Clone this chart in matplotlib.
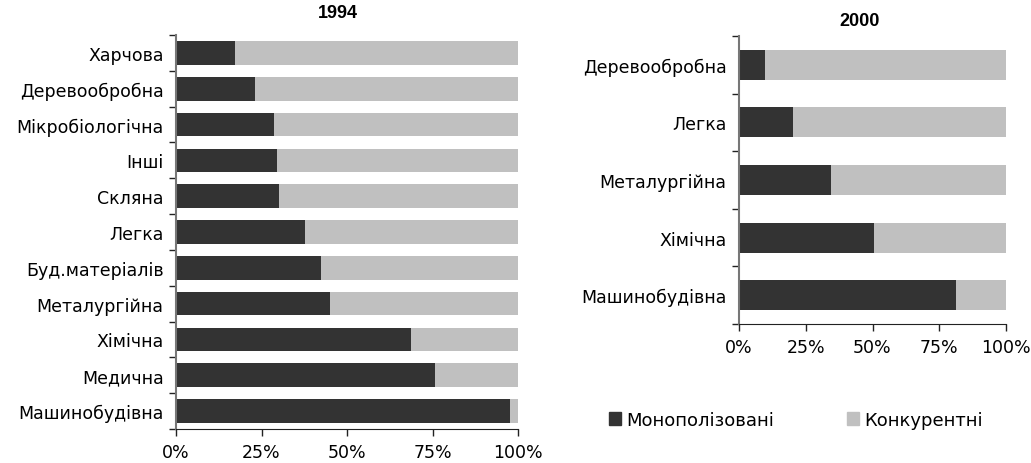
import matplotlib.pyplot as plt
import numpy as np
from matplotlib.patches import Patch

cats_1994 = ['Харчова', 'Деревообробна', 'Мікробіологічна', 'Інші', 'Скляна', 'Легка',
             'Буд.матеріалів', 'Металургійна', 'Хімічна', 'Медична', 'Машинобудівна']
mono_1994 = [17.2, 23.1, 28.6, 29.5, 30.1, 37.7, 42.4, 45.0, 68.7, 75.8, 97.7]

cats_2000 = ['Деревообробна', 'Легка', 'Металургійна', 'Хімічна', 'Машинобудівна']
mono_2000 = [9.8, 20.2, 34.5, 50.6, 81.4]

xticks = [0, 25, 50, 75, 100]
xlabels = ['0%', '25%', '50%', '75%', '100%']

DARK = '#333333'
LIGHT = '#c0c0c0'
FS = 12.5

plt.rcParams['font.family'] = ['DejaVu Sans']

fig = plt.figure(figsize=(10.31, 4.64), dpi=100)
W, H = 1031, 464


def draw(ax, cats, mono, height):
    n = len(cats)
    y = np.arange(n)[::-1]
    comp = [100 - v for v in mono]
    ax.barh(y, mono, height=height, color=DARK, edgecolor='none')
    ax.barh(y, comp, left=mono, height=height, color=LIGHT, edgecolor='none')
    ax.set_xlim(0, 100)
    ax.set_ylim(-0.5, n - 0.5)
    ax.set_yticks(y)
    ax.set_yticklabels(cats, fontsize=FS)
    ax.set_yticks(np.arange(-0.5, n, 1.0), minor=True)
    ax.tick_params(axis='y', which='major', length=0, pad=9)
    ax.tick_params(axis='y', which='minor', length=5, width=1, color='#222222')
    ax.set_xticks(xticks)
    ax.set_xticklabels(xlabels, fontsize=FS)
    ax.tick_params(axis='x', length=5, width=1, color='#222222', pad=5)
    for s in ['top', 'right']:
        ax.spines[s].set_visible(False)
    ax.spines['left'].set_color('#777777')
    ax.spines['left'].set_linewidth(1.5)
    ax.spines['bottom'].set_color('#222222')


ax1 = fig.add_axes([176 / W, 1 - 430 / H, 342 / W, 394 / H])
draw(ax1, cats_1994, mono_1994, 0.66)
fig.text(338 / W, 1 - 13 / H, '1994', ha='center', va='center', fontsize=13,
         fontweight='bold', family='Liberation Sans')

ax2 = fig.add_axes([739 / W, 1 - 325 / H, 267 / W, 288 / H])
draw(ax2, cats_2000, mono_2000, 0.52)
fig.text(860 / W, 1 - 22 / H, '2000', ha='center', va='center', fontsize=13,
         fontweight='bold', family='Liberation Sans')

handles = [Patch(color=DARK, label='Монополізовані'), Patch(color=LIGHT, label='Конкурентні')]
fig.legend(handles=handles, loc='center', bbox_to_anchor=(796 / W, 1 - 421 / H), ncol=2,
           frameon=False, fontsize=13, handlelength=0.68, handleheight=0.68,
           handletextpad=0.3, columnspacing=4.0)

fig.savefig('out.png', dpi=100)
